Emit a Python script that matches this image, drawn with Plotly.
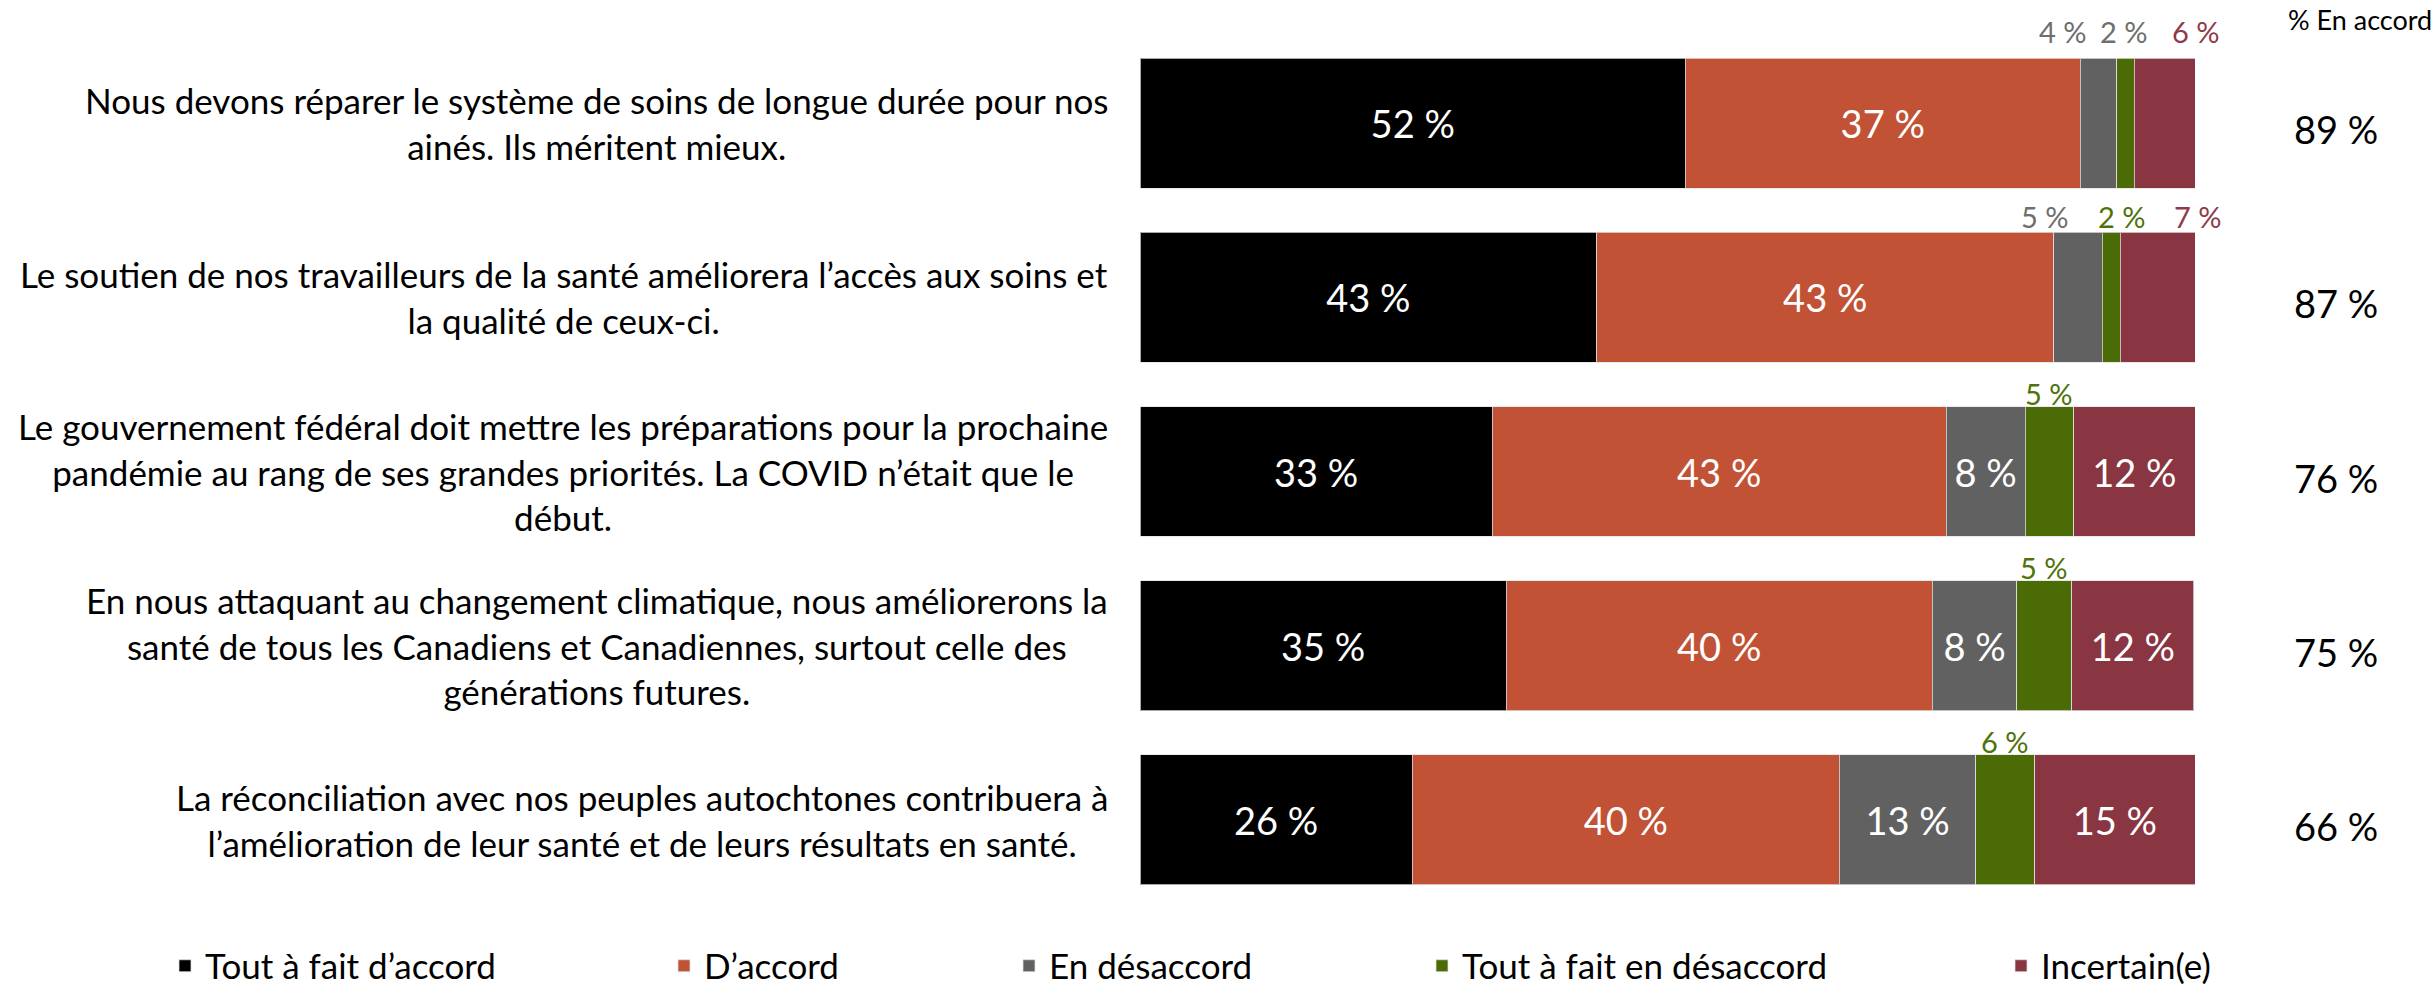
import plotly.graph_objects as go

# ---------------- data ----------------
categories = [
    "Nous devons réparer le système de soins de longue durée pour nos<br>ainés. Ils méritent mieux.",
    "Le soutien de nos travailleurs de la santé améliorera l’accès aux soins et<br>la qualité de ceux-ci.",
    "Le gouvernement fédéral doit mettre les préparations pour la prochaine<br>pandémie au rang de ses grandes priorités. La COVID n’était que le<br>début.",
    "En nous attaquant au changement climatique, nous améliorerons la<br>santé de tous les Canadiens et Canadiennes, surtout celle des<br>générations futures.",
    "La réconciliation avec nos peuples autochtones contribuera à<br>l’amélioration de leur santé et de leurs résultats en santé.",
]
series_names = ["Tout à fait d’accord", "D’accord", "En désaccord",
                "Tout à fait en désaccord", "Incertain(e)"]

# bar widths (share of respondents, %)
tout_fait_accord = [51.7, 43.3, 33.4, 34.7, 25.8]
d_accord = [37.4, 43.3, 43.0, 40.4, 40.5]
en_desaccord = [3.5, 4.6, 7.5, 8.0, 12.9]
tout_fait_desaccord = [1.65, 1.7, 4.6, 5.2, 5.6]
incertain = [5.85, 7.1, 11.5, 11.6, 15.2]

# printed labels (%)
lbl_tout_fait_accord = [52, 43, 33, 35, 26]
lbl_d_accord = [37, 43, 43, 40, 40]
lbl_en_desaccord = [4, 5, 8, 8, 13]
lbl_tout_fait_desaccord = [2, 2, 5, 5, 6]
lbl_incertain = [6, 7, 12, 12, 15]

en_accord = [89, 87, 76, 75, 66]

# ---------------- style ----------------
FONT = "Lato, 'Open Sans', sans-serif"
bar_colors = ["#000000", "#C15235", "#616161", "#4A6B06", "#893542"]
outside_text_colors = ["#000000", "#C15235", "#6E6E6E", "#4F720A", "#8E3A48"]
INSIDE_MIN = 7.3  # segments narrower than this get their label above the bar
# manual horizontal nudges (px) of labels placed above the bar
label_xshift = {(0, 2): -35, (0, 3): -2, (0, 4): 31,
                (1, 2): -33, (1, 3): 11, (1, 4): 40}
label_yshift_row = [92, 81, 78, 78, 78]
label_color_override = {(0, 3): "#6E6E6E"}

values = [tout_fait_accord, d_accord, en_desaccord, tout_fait_desaccord, incertain]
labels = [lbl_tout_fait_accord, lbl_d_accord, lbl_en_desaccord,
          lbl_tout_fait_desaccord, lbl_incertain]

W, H = 2435, 986
ML, MR, MT, MB = 1140, 240, 36, 79
plot_w = W - ML - MR

fig = go.Figure()
annotations = []

for s, (name, vals, lbls) in enumerate(zip(series_names, values, labels)):
    texts = [f"{l} %" if v >= INSIDE_MIN else "" for v, l in zip(vals, lbls)]
    legend_id = "legend" if s == 0 else f"legend{s + 1}"
    fig.add_trace(go.Bar(
        name=name, y=categories, x=vals, orientation="h",
        marker=dict(color=bar_colors[s], line=dict(color="rgba(225,225,225,0.75)", width=1)),
        text=texts, textposition="inside", insidetextanchor="middle",
        textfont=dict(family=FONT, size=38, color="white"),
        constraintext="none", hoverinfo="skip", legend=legend_id,
    ))

# labels above the bar for narrow segments
for r, cat in enumerate(categories):
    left = 0.0
    for s in range(len(values)):
        v = values[s][r]
        if v < INSIDE_MIN:
            annotations.append(dict(
                x=left + v / 2, y=cat, xref="x", yref="y",
                text=f"{labels[s][r]} %", showarrow=False,
                xanchor="center", yanchor="middle",
                xshift=label_xshift.get((r, s), 0), yshift=label_yshift_row[r],
                font=dict(family=FONT, size=29,
                          color=label_color_override.get((r, s), outside_text_colors[s])),
            ))
        left += v

# category labels (centered lines, block right-aligned)
for cat in categories:
    annotations.append(dict(
        x=0, y=cat, xref="paper", yref="y", text=cat, showarrow=False,
        xanchor="right", yanchor="middle", align="center", xshift=-30,
        font=dict(family=FONT, size=35, color="black"),
    ))

# % En accord column
annotations.append(dict(
    x=1, y=1, xref="paper", yref="paper", text="% En accord", showarrow=False,
    xanchor="center", yanchor="middle", xshift=165, yshift=17,
    font=dict(family=FONT, size=27, color="black"),
))
for cat, v in zip(categories, en_accord):
    annotations.append(dict(
        x=1, y=cat, xref="paper", yref="y", text=f"{v} %", showarrow=False,
        xanchor="center", yanchor="middle", xshift=141, yshift=-6,
        font=dict(family=FONT, size=38, color="black"),
    ))

# one legend per series so each entry sits where the reference has it
legend_px = [185, 684, 1029, 1442, 2021]  # symbol centers
legend_layout = {}
for s, px in enumerate(legend_px):
    key = "legend" if s == 0 else f"legend{s + 1}"
    legend_layout[key] = dict(
        x=(px - 20 - ML) / plot_w, xanchor="left",
        y=-(966 - (H - MB)) / (H - MT - MB), yanchor="middle",
        orientation="h", bgcolor="rgba(0,0,0,0)", borderwidth=0,
        font=dict(family=FONT, size=35, color="black"),
    )

fig.update_layout(
    width=W, height=H,
    margin=dict(l=ML, r=MR, t=MT, b=MB, autoexpand=False),
    barmode="stack", bargap=0.254,
    plot_bgcolor="white", paper_bgcolor="white",
    xaxis=dict(range=[0, 100], visible=False, fixedrange=True),
    yaxis=dict(type="category", range=[4.5, -0.5], showticklabels=False,
               showgrid=False, zeroline=False, fixedrange=True),
    annotations=annotations,
    showlegend=True,
    font=dict(family=FONT),
    **legend_layout,
)

fig.write_html("out.html",
               config={"displayModeBar": False},
               post_script="document.body.style.margin='0';document.body.style.overflow='hidden';")
